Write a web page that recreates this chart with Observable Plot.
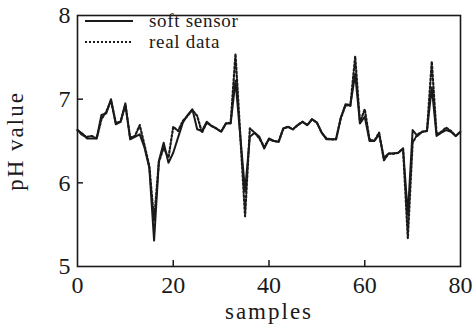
<!DOCTYPE html>
<html>
<head>
<meta charset="utf-8">
<script src="https://cdn.jsdelivr.net/npm/d3@7"></script>
<script src="https://cdn.jsdelivr.net/npm/@observablehq/plot@0.6"></script>
<style>
  html, body { margin: 0; padding: 0; background: #fff; }
  #wrap { position: relative; width: 474px; height: 324px; }
  #legend { position: absolute; left: 84px; top: 10px; font-family: 'Liberation Serif', 'Times New Roman', Times, serif; font-size: 19px; color: #1a1a1a; letter-spacing: 0.7px; }
  #legend .row { display: flex; align-items: center; height: 21px; }
  #legend svg { margin-right: 15px; }
  #chart svg, #chart svg text { font-family: 'Liberation Serif', 'Times New Roman', Times, serif !important; }
</style>
</head>
<body>
<div id="wrap">
  <div id="chart"></div>
  <div id="legend">
    <div class="row"><svg width="50" height="6"><line x1="1" x2="49" y1="3" y2="3" stroke="#1a1a1a" stroke-width="2"/></svg><span>soft sensor</span></div>
    <div class="row"><svg width="50" height="6"><line x1="1" x2="49" y1="3" y2="3" stroke="#1a1a1a" stroke-width="2.2" stroke-dasharray="2,2"/></svg><span>real data</span></div>
  </div>
</div>
<script>
const samples = d3.range(0, 81);
const softSensor = [
  6.63, 6.59, 6.53, 6.53, 6.53, 6.81, 6.83, 7.00, 6.70, 6.73,
  6.95, 6.52, 6.55, 6.58, 6.42, 6.18, 5.31, 6.26, 6.48, 6.24,
  6.36, 6.54, 6.72, 6.81, 6.88, 6.64, 6.62, 6.73, 6.68, 6.65,
  6.61, 6.71, 6.71, 7.22, 6.56, 5.90, 6.55, 6.60, 6.55, 6.41,
  6.53, 6.50, 6.49, 6.65, 6.67, 6.64, 6.69, 6.73, 6.69, 6.76,
  6.72, 6.60, 6.52, 6.52, 6.52, 6.78, 6.94, 6.93, 7.30, 6.71,
  6.79, 6.50, 6.50, 6.58, 6.30, 6.35, 6.35, 6.36, 6.41, 5.62,
  6.63, 6.56, 6.61, 6.62, 7.14, 6.56, 6.60, 6.63, 6.61, 6.56,
  6.61
];
const realData = [
  6.63, 6.57, 6.55, 6.56, 6.53, 6.76, 6.85, 6.98, 6.72, 6.73,
  6.93, 6.54, 6.56, 6.69, 6.45, 6.20, 5.55, 6.25, 6.42, 6.30,
  6.67, 6.62, 6.74, 6.80, 6.87, 6.80, 6.60, 6.72, 6.68, 6.65,
  6.61, 6.71, 6.72, 7.54, 6.57, 5.60, 6.65, 6.60, 6.53, 6.43,
  6.52, 6.50, 6.49, 6.65, 6.67, 6.64, 6.69, 6.73, 6.69, 6.76,
  6.72, 6.60, 6.53, 6.52, 6.52, 6.77, 6.93, 6.92, 7.51, 6.72,
  6.88, 6.52, 6.50, 6.60, 6.27, 6.35, 6.35, 6.36, 6.41, 5.34,
  6.48, 6.58, 6.61, 6.62, 7.45, 6.58, 6.61, 6.66, 6.62, 6.56,
  6.61
];
const xTicks = [0, 20, 40, 60, 80];
const yTicks = [5, 6, 7, 8];
const xInnerTicks = [20, 40, 60];
const yInnerTicks = [6, 7];
const xLabel = "samples";
const yLabel = "pH value";

const soft = samples.map((s, i) => ({x: s, y: softSensor[i]}));
const real = samples.map((s, i) => ({x: s, y: realData[i]}));

const chart = Plot.plot({
  width: 474,
  height: 324,
  marginLeft: 77,
  marginRight: 14,
  marginTop: 15,
  marginBottom: 58,
  style: {fontSize: "24px", color: "#1a1a1a", background: "#fff"},
  x: {domain: [0, 80]},
  y: {domain: [5, 8]},
  marks: [
    Plot.axisX({ticks: xTicks, tickSize: 0, tickPadding: 9, label: null, tickFormat: d3.format("d"), fontSize: 24}),
    Plot.axisY({ticks: yTicks, tickSize: 0, tickPadding: 7, label: null, tickFormat: d3.format("d"), fontSize: 24}),
    Plot.ruleX(xInnerTicks, {x: d => d, insetTop: 245, stroke: "#1a1a1a", strokeWidth: 1.5}),
    Plot.ruleY(yInnerTicks, {y: d => d, insetRight: 377, stroke: "#1a1a1a", strokeWidth: 1.5}),
    Plot.line(real, {x: "x", y: "y", stroke: "#1a1a1a", strokeWidth: 2.2, strokeDasharray: "2,2"}),
    Plot.line(soft, {x: "x", y: "y", stroke: "#1a1a1a", strokeWidth: 2}),
    Plot.frame({stroke: "#1a1a1a", strokeWidth: 1.6}),
    Plot.text([xLabel], {frameAnchor: "bottom", dy: 45, lineAnchor: "middle", textAnchor: "middle", text: d => d, fontSize: 23, fill: "#1a1a1a"}),
    Plot.text([yLabel], {frameAnchor: "left", dx: -62, rotate: -90, lineAnchor: "middle", textAnchor: "middle", text: d => d, fontSize: 23, fill: "#1a1a1a"})
  ]
});
document.getElementById("chart").appendChild(chart);
d3.select(chart).selectAll("g[aria-label='text'] text").style("letter-spacing", "2px");
d3.select(chart).selectAll("g[aria-label='x-axis tick label'] text, g[aria-label='y-axis tick label'] text").style("font-size", "24px");
</script>
</body>
</html>
